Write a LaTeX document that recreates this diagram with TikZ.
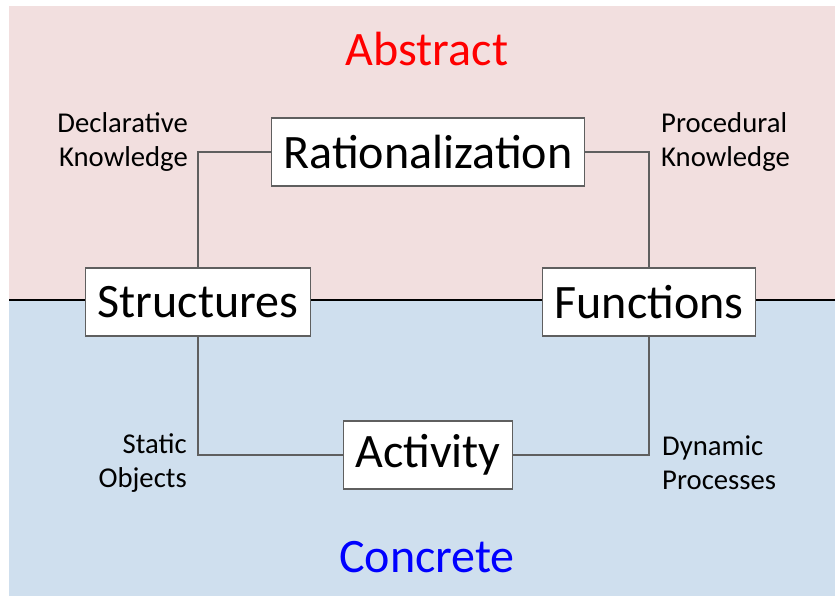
\documentclass[tikz,border=0pt]{standalone}
\usepackage{fontspec}
\setmainfont{Carlito}
\usepackage{tikz}
\usetikzlibrary{calc}
\definecolor{abstractbg}{RGB}{242,223,223}
\definecolor{concretebg}{RGB}{207,223,238}
\definecolor{linkgray}{RGB}{95,95,95}

\begin{document}
\begin{tikzpicture}[%
    x=0.03cm, y=-0.03cm,
    levelbox/.style={
      draw=linkgray,
      line width=1.2pt,
      fill=white,
      inner xsep=0.36cm,
      inner ysep=0pt,
      minimum height=2.04cm,
      font=\fontsize{41}{48}\selectfont
    },
    sidenote/.style={
      inner sep=0pt,
      font=\fontsize{24.5}{29}\selectfont
    },
    layername/.style={
      inner sep=0pt,
      anchor=base,
      font=\fontsize{41}{48}\selectfont
    }]
    \useasboundingbox (0,0) rectangle (835,596);
    \fill[abstractbg] (9,6) rectangle (835,300);
    \fill[concretebg] (9,300) rectangle (835,596);
    \draw[line width=1.3pt] (9,300) -- (835,300);

    \node[layername,text=red] at (427,66) (abs) {Abstract};
    \node[layername,text=blue] at (427,572) (con) {Concrete};

    \node[levelbox] at (428,152) (rat) {Rationalization};
    \node[levelbox] at (198,302) (str) {Structures};
    \node[levelbox] at (649,302) (fun) {Functions};
    \node[levelbox] at (428,455) (act) {Activity};

    \path[draw,linkgray,line width=1.2pt]
        (rat.west) -| (str.north)
        (rat.east) -| (fun.north)
        (str.south) |- (act.west)
        (fun.south) |- (act.east)
        ;

    \node[sidenote,anchor=east,align=right] at (188,142) (dec) {Declarative\\Knowledge};
    \node[sidenote,anchor=west,align=left] at (661,142) (pro) {Procedural\\Knowledge};
    \node[sidenote,anchor=east,align=right] at (187,463) (sta) {Static\\Objects};
    \node[sidenote,anchor=west,align=left] at (662,463) (dyn) {Dynamic\\Processes};
\end{tikzpicture}
\end{document}
